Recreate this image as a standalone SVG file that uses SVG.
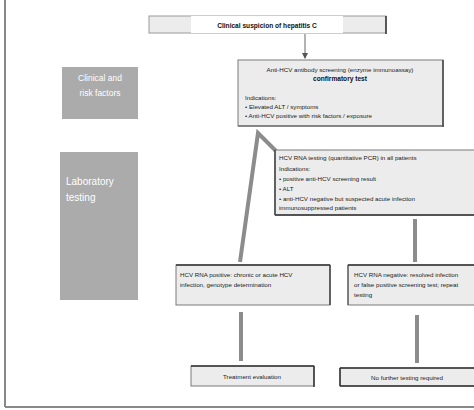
<svg xmlns="http://www.w3.org/2000/svg" width="474" height="410" viewBox="0 0 474 410">
<style>
.box{fill:#ececec;stroke:#7a7a7a;stroke-width:1}
.t{font-family:"Liberation Sans",Arial,sans-serif;font-size:6.2px;fill:#222}
.tb{font-family:"Liberation Sans",Arial,sans-serif;font-size:6.6px;font-weight:bold;fill:#111}
.w{font-family:"Liberation Sans",Arial,sans-serif;fill:#fff}
.thick{stroke:#8c8c8c;stroke-width:4;fill:none;stroke-linejoin:miter}
.thin{stroke:#666;stroke-width:1;fill:none}
</style>
<defs>
<marker id="ah" markerWidth="6" markerHeight="6" refX="5" refY="3" orient="auto" markerUnits="userSpaceOnUse">
<path d="M0,0 L6,3 L0,6 z" fill="#555"/>
</marker>
</defs>
<rect x="0" y="0" width="474" height="410" fill="#fff"/>
<g id="frame">
<line x1="5" y1="0" x2="5" y2="407" stroke="#888" stroke-width="2"/>
<line x1="5" y1="407" x2="474" y2="407" stroke="#888" stroke-width="2"/>
</g>
<g id="connectors">
<line class="thin" x1="305" y1="34" x2="305" y2="58" marker-end="url(#ah)"/>
<polyline class="thick" points="276,151 258,133 240,262"/>
<line class="thick" x1="415" y1="219" x2="415" y2="262"/>
<line class="thick" x1="241" y1="312" x2="241" y2="361"/>
<line class="thick" x1="417" y1="315" x2="417" y2="363"/>
</g>
<g id="n-top">
<rect x="149" y="16" width="237" height="17" fill="#ececec" stroke="#9a9a9a"/>
<line x1="386" y1="16" x2="386" y2="34" stroke="#333" stroke-width="1.5"/>
<rect x="191" y="16" width="152" height="17" fill="#fff"/>
<text class="tb" x="267" y="28" text-anchor="middle" font-size="7.8">Clinical suspicion of hepatitis C</text>
</g>
<g id="n-side1">
<rect x="62" y="67" width="76" height="52" fill="#ababab"/>
<text class="w" x="100" y="81" text-anchor="middle" font-size="8.5">Clinical and</text>
<text class="w" x="100" y="96" text-anchor="middle" font-size="8.5">risk factors</text>
</g>
<g id="n-side2">
<rect x="60" y="152" width="78" height="148" fill="#ababab"/>
<text class="w" x="66" y="185" font-size="10">Laboratory</text>
<text class="w" x="66" y="201" font-size="10">testing</text>
</g>
<g id="n-screen">
<rect x="238" y="60" width="205" height="66" class="box"/>
<line x1="443" y1="60" x2="443" y2="127" stroke="#444" stroke-width="1.5"/>
<line x1="238" y1="126" x2="444" y2="126" stroke="#555" stroke-width="1"/>
<text class="t" x="340" y="72" text-anchor="middle">Anti-HCV antibody screening (enzyme immunoassay)</text>
<text class="tb" x="340" y="81" text-anchor="middle">confirmatory test</text>
<text class="t" x="245" y="100">Indications:</text>
<text class="t" x="245" y="109">• Elevated ALT / symptoms</text>
<text class="t" x="245" y="118">• Anti-HCV positive with risk factors / exposure</text>
</g>
<g id="n-rna">
<rect x="275" y="150" width="205" height="65" class="box"/>
<line x1="275" y1="215" x2="474" y2="215" stroke="#333" stroke-width="1.5"/>
<line x1="275" y1="150" x2="275" y2="215" stroke="#444" stroke-width="1.5"/>
<text class="t" x="279" y="160">HCV RNA testing (quantitative PCR) in all patients</text>
<text class="t" x="279" y="171">Indications:</text>
<text class="t" x="279" y="181">• positive anti-HCV screening result</text>
<text class="t" x="279" y="191">• ALT</text>
<text class="t" x="279" y="201">• anti-HCV negative but suspected acute infection</text>
<text class="t" x="279" y="210">immunosuppressed patients</text>
</g>
<g id="n-pos">
<rect x="176" y="265" width="154" height="40" class="box"/>
<line x1="176" y1="265" x2="330" y2="265" stroke="#333" stroke-width="1.5"/>
<line x1="330" y1="265" x2="330" y2="305" stroke="#444" stroke-width="1.5"/>
<text class="t" x="180" y="277">HCV RNA positive: chronic or acute HCV</text>
<text class="t" x="180" y="287">infection, genotype determination</text>
</g>
<g id="n-neg">
<rect x="348" y="265" width="130" height="40" class="box"/>
<line x1="348" y1="265" x2="474" y2="265" stroke="#333" stroke-width="1.5"/>
<line x1="348" y1="265" x2="348" y2="305" stroke="#444" stroke-width="1"/>
<text class="t" x="354" y="277">HCV RNA negative: resolved infection</text>
<text class="t" x="354" y="287">or false positive screening test; repeat</text>
<text class="t" x="354" y="297">testing</text>
</g>
<g id="n-treat">
<rect x="191" y="366" width="123" height="20" class="box"/>
<line x1="191" y1="366" x2="314" y2="366" stroke="#333" stroke-width="1.5"/>
<line x1="314" y1="366" x2="314" y2="387" stroke="#333" stroke-width="1.5"/>
<text class="t" x="252" y="379" text-anchor="middle">Treatment evaluation</text>
</g>
<g id="n-none">
<rect x="340" y="368" width="140" height="18" class="box"/>
<line x1="340" y1="368" x2="474" y2="368" stroke="#333" stroke-width="1.5"/>
<line x1="340" y1="368" x2="340" y2="386" stroke="#333" stroke-width="1.5"/>
<line x1="340" y1="386" x2="474" y2="386" stroke="#333" stroke-width="1.5"/>
<text class="t" x="407" y="380" text-anchor="middle">No further testing required</text>
</g>
</svg>
